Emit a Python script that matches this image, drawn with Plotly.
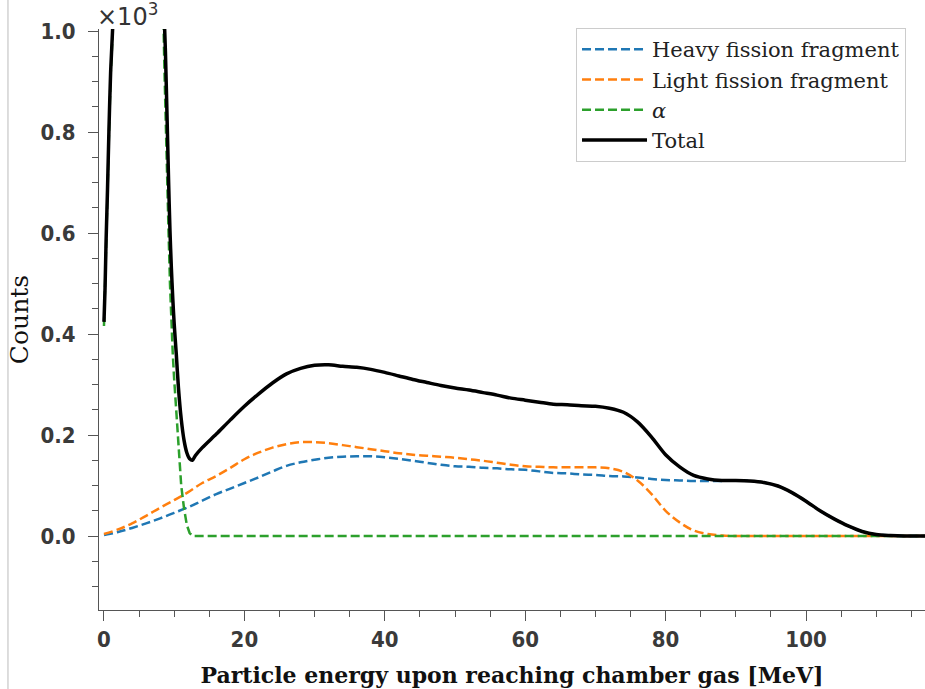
import plotly.graph_objects as go

# Counts per energy bin; the axis shows them in units of 10^3
SCALE = 1e3

# Fission fragment spectra (MeV, counts)
energy_frag = list(range(0, 120, 2))
heavy_counts = [2, 8, 16, 25, 35, 46, 57, 70, 83, 94,
                105, 116, 128, 139, 146, 151, 155, 157, 158, 158,
                156, 153, 149, 145, 141, 138, 137, 135, 134, 132,
                131, 128, 125, 124, 122, 121, 119, 118, 116, 113,
                111, 110, 109, 109, 109, 110, 109, 106, 99, 86,
                69, 50, 34, 20, 9, 3, 1, 0, 0, 0]
light_counts = [4, 13, 25, 40, 56, 71, 87, 105, 119, 135,
                152, 165, 175, 182, 186, 186, 184, 180, 176, 172,
                168, 164, 161, 159, 157, 155, 152, 149, 145, 141,
                138, 137, 136, 136, 136, 136, 134, 127, 110, 83,
                50, 27, 11, 4, 1, 0, 0, 0, 0, 0,
                0, 0, 0, 0, 0, 0, 0, 0, 0, 0]

# Alpha spectrum (MeV, counts)
energy_alpha = [0, 0.15, 0.3, 0.5, 0.7, 0.95, 1.25, 1.6, 2.5, 4, 5.5, 7, 8,
                8.6, 8.75, 9.0, 9.2, 9.4, 9.6, 9.8, 10.0, 10.3, 10.6, 11.0,
                11.4, 11.8, 12.2, 12.6, 20, 40, 60, 80, 100, 118]
alpha_counts = [416, 482, 577, 677, 792, 912, 1000, 1150, 1500, 1800, 1900, 1700, 1350,
                930, 860, 720, 600, 500, 420, 360, 310, 240, 170, 100,
                55, 22, 6, 0, 0, 0, 0, 0, 0, 0]

# Summed spectrum (MeV, counts)
energy_total = [0, 0.15, 0.3, 0.5, 0.7, 0.95, 1.25, 1.6, 2.5, 4, 5.5, 7, 8,
                8.6, 8.75, 9.0, 9.2, 9.4, 9.6, 9.8, 10.0, 10.3, 10.6, 11.0,
                11.4, 11.8, 12.2, 12.6, 13] + list(range(14, 120, 2))
total_counts = [424, 490, 585, 685, 800, 920, 1010, 1160, 1510, 1810, 1910, 1720, 1370,
                1020, 960, 820, 705, 605, 530, 470, 420, 360, 295, 232,
                190, 165, 153, 150, 159,
                175, 202, 230, 257, 281, 303, 321, 332, 338, 339,
                336, 334, 330, 324, 317, 310, 304, 298, 293, 289,
                284, 279, 273, 269, 265, 261, 260, 258, 257, 253,
                245, 226, 196, 161, 137, 120, 113, 110, 110, 109,
                106, 99, 86, 69, 50, 34, 20, 9, 3, 1, 0, 0, 0]

series_names = ["Heavy fission fragment", "Light fission fragment", "<i>α</i>", "Total"]
x_tick_values = [0, 20, 40, 60, 80, 100]
y_tick_values = [0.0, 0.2, 0.4, 0.6, 0.8, 1.0]

BLUE, ORANGE, GREEN = "#1f77b4", "#ff7f0e", "#2ca02c"
DASH = "9px,4px"
AXIS_GREY = "#555555"
tick_font = dict(family="DejaVu Sans Condensed", size=22, color="#3a3a3a", weight="bold")

fig = go.Figure()
fig.add_trace(go.Scatter(x=energy_frag, y=[v / SCALE for v in heavy_counts], mode="lines",
                         name=series_names[0], line=dict(color=BLUE, width=2.5, dash=DASH, shape="spline")))
fig.add_trace(go.Scatter(x=energy_frag, y=[v / SCALE for v in light_counts], mode="lines",
                         name=series_names[1], line=dict(color=ORANGE, width=2.5, dash=DASH, shape="spline")))
fig.add_trace(go.Scatter(x=energy_alpha, y=[v / SCALE for v in alpha_counts], mode="lines",
                         name=series_names[2], line=dict(color=GREEN, width=2.5, dash=DASH)))
fig.add_trace(go.Scatter(x=energy_total, y=[v / SCALE for v in total_counts], mode="lines",
                         name=series_names[3],
                         line=dict(color="black", width=3.5, shape="spline", smoothing=0.8)))

fig.update_xaxes(
    range=[-0.71, 116.95], tickvals=x_tick_values, ticktext=[str(v) for v in x_tick_values],
    showline=True, linecolor=AXIS_GREY, linewidth=1, mirror=False,
    ticks="outside", ticklen=10, tickwidth=1, tickcolor=AXIS_GREY,
    minor=dict(dtick=5, tick0=0, ticks="outside", ticklen=6, tickwidth=1, tickcolor=AXIS_GREY),
    showgrid=False, zeroline=False, tickfont=tick_font,
    title=dict(text="Particle energy upon reaching chamber gas [MeV]",
               font=dict(family="DejaVu Serif", size=22, color="#111111", weight="bold"), standoff=16),
)
fig.update_yaxes(
    range=[-0.1465, 1.004], tickvals=y_tick_values, ticktext=[f"{v:.1f}" for v in y_tick_values],
    showline=True, linecolor=AXIS_GREY, linewidth=1,
    ticks="outside", ticklen=10, tickwidth=1, tickcolor=AXIS_GREY,
    minor=dict(dtick=0.05, tick0=0, ticks="outside", ticklen=6, tickwidth=1, tickcolor=AXIS_GREY),
    showgrid=False, zeroline=False, tickfont=tick_font, ticklabelstandoff=8,
    title=dict(text="Counts", font=dict(family="DejaVu Serif", size=25, color="#111111"), standoff=4),
)

fig.add_annotation(xref="paper", yref="paper", x=0, y=1, xanchor="left", yanchor="bottom",
                   xshift=-4, yshift=-4, showarrow=False, text="×10<sup>3</sup>",
                   font=dict(family="DejaVu Sans", size=24, color="#333333"))

# thin frame line at the far left of the figure
fig.add_shape(type="line", xref="paper", yref="paper", x0=-0.1102, x1=-0.1102, y0=-0.136, y1=1.05,
              line=dict(color="#bbbbbb", width=1))

fig.update_layout(
    width=925, height=689, margin=dict(l=99, r=0, t=29, b=79),
    plot_bgcolor="white", paper_bgcolor="white",
    legend=dict(x=0.5775, y=1.0017, xanchor="left", yanchor="top",
                bgcolor="white", bordercolor="#cccccc", borderwidth=1,
                font=dict(family="DejaVu Serif", size=21, color="#222222"),
                itemwidth=65, tracegroupgap=0),
    showlegend=True,
)

fig.write_html("out.html")
